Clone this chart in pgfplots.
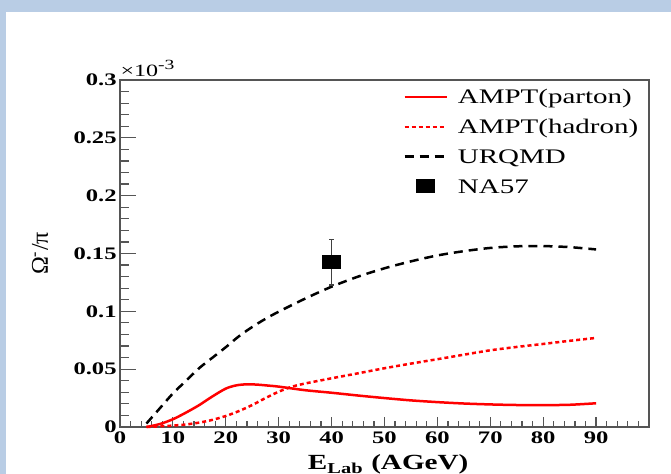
\documentclass[border=0pt]{standalone}
\usepackage{fontspec}
\setmainfont{Liberation Serif}
\usepackage{graphicx}
\usepackage{pgfplots}
\pgfplotsset{compat=1.18}
\definecolor{bgblue}{RGB}{185,205,229}
\definecolor{axisgray}{RGB}{85,85,85}
\definecolor{rootred}{RGB}{255,0,0}

\pgfplotstableread{
x y
5 0
7.5 0.0025
10 0.0067
12.5 0.0125
15 0.019
17.5 0.0265
20 0.0332
22 0.0360
24 0.0369
26 0.0366
28 0.0358
30 0.0349
35 0.0318
40 0.0296
45 0.0272
50 0.0250
55 0.0230
60 0.0215
65 0.0203
70 0.0195
75 0.0190
80 0.0189
85 0.0192
90 0.0205
}\parton

\pgfplotstableread{
x y
5 0
7.5 0.0006
10 0.0012
12.5 0.0022
15 0.0038
17.5 0.0062
20 0.0095
22.5 0.0138
25 0.0190
27.5 0.0250
30 0.0305
32.5 0.0348
35 0.0376
40 0.0421
45 0.0464
50 0.0508
55 0.0548
60 0.0586
65 0.0625
70 0.0663
75 0.0692
80 0.0718
85 0.0745
90 0.0770
}\hadron

\pgfplotstableread{
x y
5 0.003
7.5 0.016
10 0.029
12.5 0.040
15 0.051
17.5 0.060
20 0.069
22.5 0.0785
25 0.0865
27.5 0.0935
30 0.0997
35 0.1110
40 0.1213
45 0.1300
50 0.1372
55 0.1432
60 0.1483
65 0.1520
70 0.1548
75 0.1562
80 0.1564
85 0.1555
90 0.1535
}\urqmd

\begin{document}
\begin{tikzpicture}
\fill[bgblue] (-60pt,-23.5pt) rectangle (275.5pt,213.5pt);
\fill[white] (-57pt,-23.5pt) rectangle (275.5pt,207.5pt);
\begin{axis}[
  at={(0pt,0pt)}, anchor=south west,
  scale only axis, width=264.5pt, height=173.5pt,
  xmin=0, xmax=100, ymin=0, ymax=0.3,
  clip=false,
  axis line style={draw=axisgray, line width=0.75pt},
  tick pos=left,
  xtick={0,10,20,30,40,50,60,70,80,90},
  xticklabels={0,10,20,30,40,50,60,70,80,90},
  minor xtick={2,4,6,8,12,14,16,18,22,24,26,28,32,34,36,38,42,44,46,48,52,54,56,58,62,64,66,68,72,74,76,78,82,84,86,88,92,94,96,98},
  ytick={0,0.05,0.1,0.15,0.2,0.25,0.3},
  yticklabels={0,0.05,0.1,0.15,0.2,0.25,0.3},
  minor ytick={0.01,0.02,0.03,0.04,0.06,0.07,0.08,0.09,0.11,0.12,0.13,0.14,0.16,0.17,0.18,0.19,0.21,0.22,0.23,0.24,0.26,0.27,0.28,0.29},
  tick style={axisgray, line width=0.6pt},
  xtick style={/pgfplots/major tick length=5pt, /pgfplots/minor tick length=2.8pt},
  ytick style={/pgfplots/major tick length=8pt, /pgfplots/minor tick length=4.5pt},
  xticklabel style={font=\fontsize{8.8}{10}\selectfont\bfseries, xscale=1.4, inner sep=0pt, anchor=north, yshift=-2pt},
  yticklabel style={font=\fontsize{8.8}{10}\selectfont\bfseries, xscale=1.4, inner sep=0pt, anchor=east, xshift=-1pt},
  xlabel={\bfseries E\textsubscript{Lab} (AGeV)},
  xlabel style={at={(axis description cs:0.507,0)}, anchor=base, yshift=-21.5pt, inner sep=0pt, font=\fontsize{10.8}{12}\selectfont, xscale=1.35},
  ylabel={Ω\textsuperscript{-}/π},
  ylabel style={at={(axis description cs:-0.1512,0.5)}, anchor=center, rotate=0, inner sep=0pt, font=\fontsize{12}{14}\selectfont},
  legend cell align=left,
  legend style={at={(axis description cs:0.535,0.984)}, anchor=north west, draw=none, fill=none, inner sep=0pt,
    font=\fontsize{10.35}{12}\selectfont, column sep=5pt, row sep=3.65pt,
    nodes={inner sep=0pt, text height=9pt, text depth=2.2pt}},
  legend image code/.code={\draw[#1] (0pt,0pt) -- (21pt,0pt);},
]
\addplot[rootred, line width=1.25pt, smooth] table[x=x,y=y] {\parton};
\addlegendentry{\scalebox{1.4}[1]{AMPT(parton)}}
\addplot[rootred, line width=1.25pt, dash pattern=on 2pt off 1.5pt, smooth] table[x=x,y=y] {\hadron};
\addlegendentry{\scalebox{1.4}[1]{AMPT(hadron)}}
\addplot[black, line width=1.25pt, dash pattern=on 4.5pt off 3pt, smooth] table[x=x,y=y] {\urqmd};
\addlegendentry{\scalebox{1.4}[1]{URQMD}}
\addplot[forget plot, black!75, only marks, mark=none,
  error bars/.cd, y dir=both, y explicit,
  error bar style={line width=0.75pt, black!75},
  error mark options={rotate=90, mark size=1.2pt, line width=0.75pt, black!75}]
  coordinates {(40,0.1424) +- (0,0.0195)};
\addplot[black, only marks, mark=square*, mark size=3.25pt, mark options={xscale=1.38},
  legend image code/.code={\fill[black] (6pt,-3.25pt) rectangle (15pt,3.25pt);}]
  coordinates {(40,0.1424)};
\addlegendentry{\scalebox{1.4}[1]{NA57}}
\node[anchor=base west, inner sep=0pt, font=\fontsize{8.6}{9}\selectfont, xscale=1.4] at (rel axis cs:0,1) [yshift=1.5pt] {×10\raisebox{0.45em}{\fontsize{7}{8}\selectfont -3}};
\end{axis}
\pgfresetboundingbox
\path[use as bounding box] (-60pt,-23.5pt) rectangle (275.5pt,213.5pt);
\end{tikzpicture}
\end{document}
